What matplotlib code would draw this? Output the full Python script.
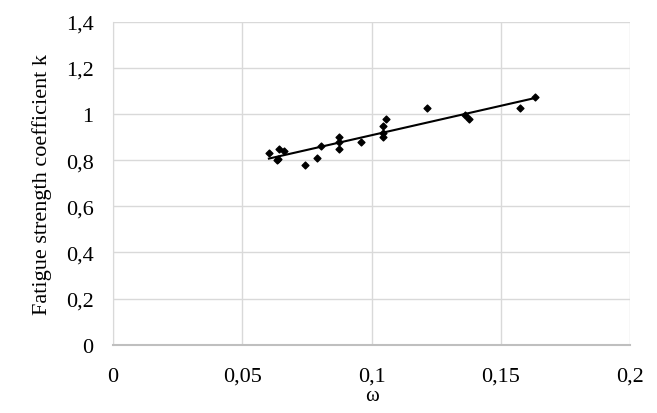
import matplotlib; matplotlib.use("Agg")
import matplotlib.pyplot as plt
import numpy as np
from matplotlib.ticker import FuncFormatter

plt.rcParams['font.family'] = ['Liberation Serif', 'DejaVu Serif']

omega = [0.0603, 0.0633, 0.0642, 0.0638, 0.0661, 0.0741, 0.079, 0.0806, 0.0873, 0.0873, 0.0873,
         0.0958, 0.1043, 0.1043, 0.1043, 0.1056, 0.1216, 0.136, 0.1377, 0.1575, 0.1632]
k = [0.831, 0.80, 0.85, 0.807, 0.84, 0.78, 0.81, 0.86, 0.90, 0.877, 0.85,
     0.879, 0.947, 0.917, 0.90, 0.977, 1.026, 0.997, 0.977, 1.026, 1.076]

fig = plt.figure(figsize=(6.57, 4.14), dpi=100)
ax = fig.add_axes([0.172, 0.165, 0.787, 0.78])
ax.scatter(omega, k, marker='D', s=12, color='black', zorder=3)
a, b = np.polyfit(omega, k, 1)
xs = np.array([min(omega), max(omega)])
ax.plot(xs, a * xs + b, color='black', lw=1.5, zorder=2)

ax.set_xlim(0, 0.2); ax.set_ylim(0, 1.4)
ax.set_xticks([0, 0.05, 0.1, 0.15, 0.2])
ax.set_yticks(np.arange(0, 1.41, 0.2))
fmt = FuncFormatter(lambda v, p: ('%g' % round(v, 2)).replace('.', ','))
ax.xaxis.set_major_formatter(fmt); ax.yaxis.set_major_formatter(fmt)
ax.grid(color='#d9d9d9', lw=1)
ax.set_axisbelow(True)
for s in ['top', 'right']:
    ax.spines[s].set_visible(False)
ax.spines['left'].set_color('#d9d9d9'); ax.spines['bottom'].set_color('#bfbfbf')
ax.spines['bottom'].set_linewidth(1.5)
ax.tick_params(length=0, labelsize=16)
ax.tick_params(axis='x', pad=16)
ax.tick_params(axis='y', pad=14)
ax.set_ylabel('Fatigue strength coefficient k', fontsize=16, labelpad=10)
ax.set_xlabel('ω', fontsize=15, labelpad=0)
fig.savefig('out.png', dpi=100)
